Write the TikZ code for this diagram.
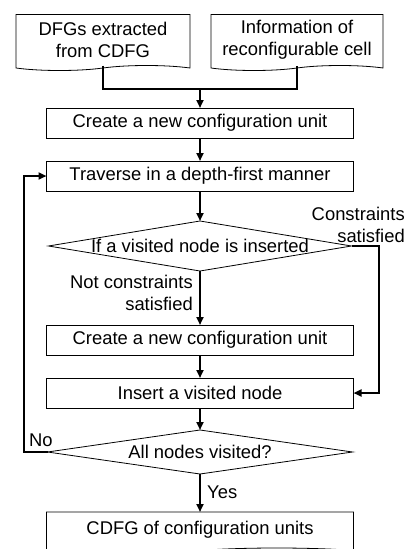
\documentclass[tikz,border=0pt]{standalone}
\usepackage{fontspec}
\setmainfont{Liberation Sans}
\usetikzlibrary{shapes.geometric, shapes.symbols, positioning, arrows.meta}

\begin{document}
\begin{tikzpicture}[x=1pt, y=1pt, >={Triangle[length=8pt,width=7pt]}, node distance=23pt,
    font=\fontsize{18.4}{22}\selectfont,
    process/.style={rectangle, draw, line width=0.8pt, minimum width=307pt, minimum height=30pt, inner sep=0pt, outer sep=0pt},
    decision/.style={diamond, draw, line width=0.8pt, minimum width=303pt, minimum height=50pt, inner sep=0pt, outer sep=0pt},
    docu/.style={tape, tape bend top=none, tape bend bottom=in and out, draw, line width=0.8pt, align=center, inner sep=0pt, outer sep=0pt},
    note/.style={inner sep=0pt, align=right},
    line/.style={line width=2pt},
    arrow/.style={line, ->}]

    \useasboundingbox (0,0) rectangle (406,-549);

    \node[docu, minimum width=174pt, minimum height=56pt] (dfg) at (103,-40) {DFGs extracted\\from CDFG};
    \node[docu, minimum width=172pt, minimum height=56pt] (cell) at (297,-40) {Information of\\reconfigurable cell};

    \node[process] (newcu) at (200,-123) {Create a new configuration unit};
    \node[process, below=of newcu] (trav) {Traverse in a depth-first manner};
    \node[decision, below=30pt of trav] (chk) {\makebox[0pt]{If a visited node is inserted}};
    \node[process, below=54pt of chk] (newcu2) {Create a new configuration unit};
    \node[process, below=of newcu2] (ins) {Insert a visited node};
    \node[decision, below=22pt of ins, minimum width=305pt, minimum height=44pt] (alldone) {\makebox[0pt]{All nodes visited?}};
    \node[docu, below=38pt of alldone, minimum width=307pt, minimum height=41pt] (result) {CDFG of configuration units};

    \coordinate[above=19pt of newcu] (merge);

    \node[note, anchor=east] (sat) at (405,-225) {Constraints\\satisfied};
    \node[note, anchor=east] (notsat) at (193,-293) {Not constraints\\satisfied};
    \node[note, anchor=west] (no) at (29,-440) {No};
    \node[note, anchor=west] (yes) at (207,-492) {Yes};

    \draw[line] (dfg.south) |- (merge) -| (cell.south);
    \draw[arrow] (merge) -- (newcu);
    \draw[arrow] (newcu) -- (trav);
    \draw[arrow] (trav) -- (chk);
    \draw[arrow] (chk) -- (newcu2);
    \draw[arrow] (chk.east) -- ++(27,0) |- (ins.east);
    \draw[arrow] (newcu2) -- (ins);
    \draw[arrow] (ins) -- (alldone);
    \draw[arrow] (alldone.west) -- ++(-24,0) |- (trav.west);
    \draw[arrow] (alldone) -- (result);
\end{tikzpicture}
\end{document}
